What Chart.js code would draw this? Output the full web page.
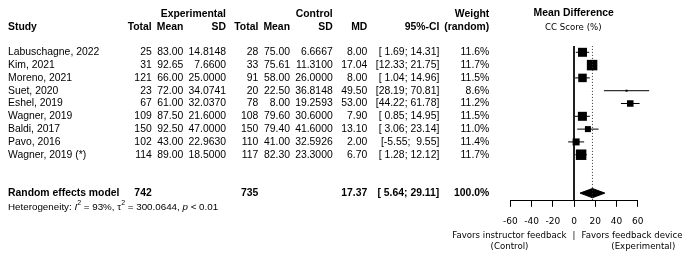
<!DOCTYPE html>
<html>
<head>
<meta charset="utf-8">
<script src="https://cdn.jsdelivr.net/npm/chart.js@4.4.0/dist/chart.umd.min.js"></script>
<style>
  html, body { margin: 0; padding: 0; background: #fff; }
  #wrap { position: relative; width: 698px; height: 256px; }
</style>
</head>
<body>
<div id="wrap"><canvas id="forest"></canvas></div>
<script>
// values
const studies = ["Labuschagne, 2022", "Kim, 2021", "Moreno, 2021", "Suet, 2020", "Eshel, 2019",
  "Wagner, 2019", "Baldi, 2017", "Pavo, 2016", "Wagner, 2019 (*)"];
const expTotal = [25, 31, 121, 23, 67, 109, 150, 102, 114];
const expMean = [83.00, 92.65, 66.00, 72.00, 61.00, 87.50, 92.50, 43.00, 89.00];
const expSD = [14.8148, 7.6600, 25.0000, 34.0741, 32.0370, 21.6000, 47.0000, 22.9630, 18.5000];
const ctrlTotal = [28, 33, 91, 20, 78, 108, 150, 110, 117];
const ctrlMean = [75.00, 75.61, 58.00, 22.50, 8.00, 79.60, 79.40, 41.00, 82.30];
const ctrlSD = [6.6667, 11.3100, 26.0000, 36.8148, 19.2593, 30.6000, 41.6000, 32.5926, 23.3000];
const md = [8.00, 17.04, 8.00, 49.50, 53.00, 7.90, 13.10, 2.00, 6.70];
const ciLow = [1.69, 12.33, 1.04, 28.19, 44.22, 0.85, 3.06, -5.55, 1.28];
const ciHigh = [14.31, 21.75, 14.96, 70.81, 61.78, 14.95, 23.14, 9.55, 12.12];
const weight = [11.6, 11.7, 11.5, 8.6, 11.2, 11.5, 11.0, 11.4, 11.7];

const pooledTotals = [742, 735];
const pooledMD = 17.37;
const pooledCI = [5.64, 29.11];
const pooledWeight = 100.0;
const hetI2 = 93;
const hetTau2 = 300.0644;
const hetP = "< 0.01";

const xTicks = [-60, -40, -20, 0, 20, 40, 60];

// square sides (px)
const boxSide = [9, 10.5, 8.5, 2, 6.5, 9, 6, 7, 10.5];

const SUMMARY_ROW = 12;
const tableFont = '"Liberation Sans", Arial, sans-serif';
const plotFont = '"DejaVu Sans", sans-serif';

const fmtCI = (lo, hi) => "[" + lo.toFixed(2).padStart(5, " ") + "; " + hi.toFixed(2).padStart(5, " ") + "]";

// table text + labels drawn around the plot
const tablePlugin = {
  id: "forestTable",
  afterDraw(chart) {
    const ctx = chart.ctx;
    const ys = chart.scales.y, xs = chart.scales.x;
    const rowY = (r) => ys.getPixelForValue(r);
    const x0 = xs.getPixelForValue(0);

    function put(txt, px, py, align, font) {
      ctx.font = font;
      ctx.textAlign = align;
      ctx.fillText(txt, px, py);
    }

    ctx.save();
    ctx.fillStyle = "#000";
    ctx.textBaseline = "middle";

    const reg = "10.4px " + tableFont;
    const bold = "bold 10.4px " + tableFont;
    const cols = [151.7, 183.3, 226, 258.3, 290, 332.7, 367.3, 439.3, 489.3];

    // headers
    const h1 = rowY(-2), h2 = rowY(-1);
    put("Experimental", cols[2], h1, "right", bold);
    put("Control", cols[5], h1, "right", bold);
    put("Weight", cols[8], h1, "right", bold);
    put("Study", 8, h2, "left", bold);
    ["Total", "Mean", "SD", "Total", "Mean", "SD", "MD", "95%-CI", "(random)"].forEach((t, i) =>
      put(t, cols[i], h2, "right", bold));
    put("Mean Difference", x0 - 0.3, h1 - 0.6, "center", bold);
    put("CC Score (%)", x0 - 0.7, h2 + 1, "center", "8.6px " + plotFont);

    // study rows
    studies.forEach((s, i) => {
      const py = rowY(i + 1);
      put(s, 8, py, "left", reg);
      const cells = [String(expTotal[i]), expMean[i].toFixed(2), expSD[i].toFixed(4),
        String(ctrlTotal[i]), ctrlMean[i].toFixed(2), ctrlSD[i].toFixed(4),
        md[i].toFixed(2), fmtCI(ciLow[i], ciHigh[i]), weight[i].toFixed(1) + "%"];
      cells.forEach((c, k) => put(c, cols[k], py, "right", reg));
    });

    // pooled row
    const sy = rowY(SUMMARY_ROW);
    put("Random effects model", 8, sy, "left", bold);
    put(String(pooledTotals[0]), cols[0], sy, "right", bold);
    put(String(pooledTotals[1]), cols[3], sy, "right", bold);
    put(pooledMD.toFixed(2), cols[6], sy, "right", bold);
    put(fmtCI(pooledCI[0], pooledCI[1]), cols[7], sy, "right", bold);
    put(pooledWeight.toFixed(1) + "%", cols[8], sy, "right", bold);

    // heterogeneity line with italics and superscripts
    const hy = sy + 14;
    const hs = 9.8;
    const parts = [
      ["Heterogeneity: ", "", 0], ["I", "italic ", 0], ["2", "", 1],
      [" = " + hetI2 + "%, \u03c4", "", 0], ["2", "", 1],
      [" = " + hetTau2.toFixed(4) + ", ", "", 0], ["p", "italic ", 0], [" " + hetP, "", 0]
    ];
    let hx = 8;
    ctx.textAlign = "left";
    parts.forEach(([t, style, sup]) => {
      ctx.font = style + (sup ? 7 : hs) + "px " + tableFont;
      ctx.fillText(t, hx, sup ? hy - 4 : hy);
      hx += ctx.measureText(t).width;
    });

    // favours labels under the axis
    const lf = "8.6px " + plotFont;
    put("Favors instructor feedback", x0 - 7.5, 236, "right", lf);
    put("|", x0, 236, "center", lf);
    put("Favors feedback device", x0 + 7.5, 236, "left", lf);
    put("(Control)", 509.5, 246.5, "center", lf);
    put("(Experimental)", 643.3, 246.5, "center", lf);

    ctx.restore();
  }
};

const ciSets = studies.map((s, i) => ({
  type: "scatter",
  showLine: true,
  data: [{ x: ciLow[i], y: i + 1 }, { x: ciHigh[i], y: i + 1 }],
  borderColor: "#000",
  borderWidth: 1,
  pointRadius: 0,
  clip: false
}));

const datasets = [
  {
    // pooled estimate, dotted
    type: "scatter", showLine: true,
    data: [{ x: pooledMD, y: 0.5 }, { x: pooledMD, y: 12.6 }],
    borderColor: "#333", borderWidth: 1, borderDash: [1, 2], pointRadius: 0
  },
  {
    // no-effect line
    type: "scatter", showLine: true,
    data: [{ x: 0, y: 0.5 }, { x: 0, y: 12.6 }],
    borderColor: "#000", borderWidth: 1, pointRadius: 0
  },
  {
    type: "scatter",
    data: md.map((v, i) => ({ x: v, y: i + 1 })),
    pointStyle: "rect",
    pointRadius: boxSide.map((s) => s / Math.SQRT2),
    backgroundColor: "#000",
    borderWidth: 0,
    clip: false
  },
  {
    // pooled diamond
    type: "scatter", showLine: true,
    data: [
      { x: pooledCI[0], y: SUMMARY_ROW }, { x: pooledMD, y: SUMMARY_ROW - 0.36 },
      { x: pooledCI[1], y: SUMMARY_ROW }, { x: pooledMD, y: SUMMARY_ROW + 0.36 },
      { x: pooledCI[0], y: SUMMARY_ROW }
    ],
    borderColor: "#000", backgroundColor: "#000", borderWidth: 1,
    fill: "shape", pointRadius: 0, tension: 0
  },
  ...ciSets
];

new Chart(document.getElementById("forest"), {
  type: "scatter",
  data: { datasets },
  options: {
    responsive: true,
    maintainAspectRatio: false,
    animation: false,
    layout: { padding: { left: 510.3, right: 60.3, top: 45.9, bottom: 0 } },
    plugins: { legend: { display: false }, tooltip: { enabled: false } },
    scales: {
      x: {
        type: "linear",
        min: -60, max: 60,
        afterBuildTicks: (s) => { s.ticks = xTicks.map((v) => ({ value: v })); },
        afterFit: (s) => { s.height = 55.2; },
        grid: { drawOnChartArea: false, drawTicks: true, tickLength: 6, color: "#000", lineWidth: 1 },
        border: { display: true, color: "#000", width: 1 },
        ticks: { color: "#000", padding: 9, maxRotation: 0, font: { family: "DejaVu Sans", size: 9 } }
      },
      y: {
        type: "linear",
        display: false,
        reverse: true,
        min: 0.5, max: 12.6
      }
    }
  },
  plugins: [tablePlugin]
});
</script>
</body>
</html>
